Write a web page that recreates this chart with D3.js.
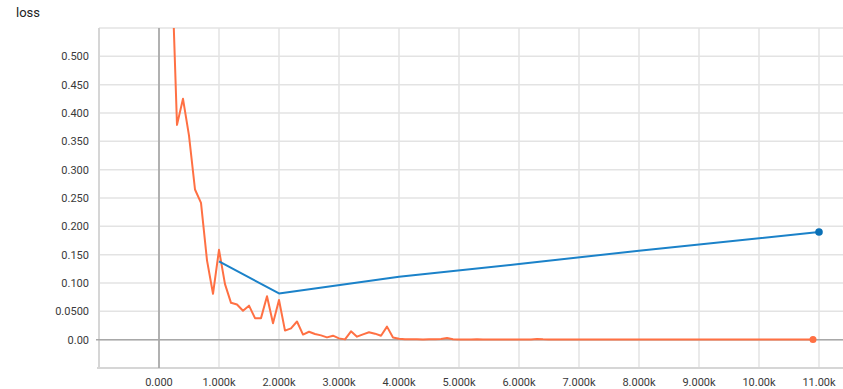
<!DOCTYPE html>
<html>
<head>
<meta charset="utf-8">
<script src="https://cdn.jsdelivr.net/npm/d3@7"></script>
<style>
  html, body { margin: 0; padding: 0; background: #fff; }
  svg { display: block; font-family: Roboto, "Noto Sans", sans-serif; }
  .grid line { stroke: #e3e3e3; stroke-width: 1.5; }
  .tick-label { font-size: 11px; fill: #3a3a3a; }
</style>
</head>
<body>
<svg id="chart" width="843" height="389"></svg>
<script>
// ── Data ──────────────────────────────────────────────────────────────────────
const chartTitle = 'loss';

// train loss, logged every 100 steps starting at step 100
const trainStepEvery = 100;
const trainLoss = [
  1.10, 0.70, 0.379, 0.425, 0.36, 0.265, 0.2415, 0.14, 0.081, 0.1585,
  0.098, 0.065, 0.062, 0.051, 0.060, 0.038, 0.038, 0.0765, 0.029, 0.070,
  0.016, 0.020, 0.032, 0.009, 0.014, 0.010, 0.0076, 0.004, 0.007, 0.0023,
  0.0005, 0.0147, 0.0053, 0.0094, 0.013, 0.0106, 0.007, 0.023, 0.004, 0.0018,
  0.0007, 0.0006, 0.0008, 0.0005, 0.0007, 0.0006, 0.0012, 0.0028, 0.0006, 0.0004,
  0.0005, 0.0004, 0.0006, 0.0005, 0.0003, 0.0004, 0.0005, 0.0004, 0.0003, 0.0004,
  0.0004, 0.0005, 0.0012, 0.0006, 0.0003, 0.0004, 0.0003, 0.0004, 0.0003, 0.0003,
  0.0004, 0.0003, 0.0003, 0.0002, 0.0003, 0.0004, 0.0003, 0.0002, 0.0003, 0.0003,
  0.0002, 0.0003, 0.0002, 0.0003, 0.0002, 0.0002, 0.0003, 0.0002, 0.0002, 0.0002,
  0.0002, 0.0002, 0.0003, 0.0002, 0.0002, 0.0002, 0.0001, 0.0002, 0.0002, 0.0002,
  0.0001, 0.0002, 0.0002, 0.0001, 0.0002, 0.0001, 0.0001, 0.0002, 0.0001
];

// eval loss
const evalSteps = [1000, 2000, 4000, 6000, 8000, 11000];
const evalLoss  = [0.138, 0.0815, 0.111, 0.1335, 0.157, 0.190];

// axis ticks
const xTickValues = [0, 1000, 2000, 3000, 4000, 5000, 6000, 7000, 8000, 9000, 10000, 11000];
const xTickLabels = ['0.000', '1.000k', '2.000k', '3.000k', '4.000k', '5.000k', '6.000k',
                     '7.000k', '8.000k', '9.000k', '10.00k', '11.00k'];
const xGridValues = [-1000, ...xTickValues];
const yTickValues = [0, 0.05, 0.1, 0.15, 0.2, 0.25, 0.3, 0.35, 0.4, 0.45, 0.5];
const yTickLabels = ['0.00', '0.0500', '0.100', '0.150', '0.200', '0.250', '0.300',
                     '0.350', '0.400', '0.450', '0.500'];
const yGridValues = [-0.05, ...yTickValues, 0.55];

const trainColor = '#ff7043';
const evalColor  = '#1b82c9';
const evalDotColor = '#0a70b6';

// ── Layout ────────────────────────────────────────────────────────────────────
const plot = { left: 99, right: 843, top: 28, bottom: 368 };

const svg = d3.select('#chart');

const x = d3.scaleLinear().domain([-1000, 11400]).range([plot.left, plot.right]);
const y = d3.scaleLinear().domain([-0.05, 0.55]).range([plot.bottom, plot.top]);

// title
svg.append('text')
  .attr('x', 16).attr('y', 16.5)
  .attr('font-size', 13).attr('fill', '#222')
  .text(chartTitle);

svg.append('clipPath').attr('id', 'plot-clip')
  .append('rect')
  .attr('x', plot.left).attr('y', plot.top)
  .attr('width', plot.right - plot.left).attr('height', plot.bottom - plot.top);

// gridlines
const grid = svg.append('g').attr('class', 'grid');
grid.selectAll('.vg').data(xGridValues).join('line')
  .attr('x1', d => x(d)).attr('x2', d => x(d))
  .attr('y1', plot.top).attr('y2', plot.bottom);
grid.selectAll('.hg').data(yGridValues).join('line')
  .attr('x1', plot.left).attr('x2', plot.right)
  .attr('y1', d => y(d)).attr('y2', d => y(d));

// frame (left + bottom)
svg.append('line')
  .attr('x1', plot.left).attr('x2', plot.left)
  .attr('y1', plot.top).attr('y2', plot.bottom + 1)
  .attr('stroke', '#d6d6d6').attr('stroke-width', 2);
svg.append('line')
  .attr('x1', plot.left - 2).attr('x2', plot.right)
  .attr('y1', plot.bottom).attr('y2', plot.bottom)
  .attr('stroke', '#d6d6d6').attr('stroke-width', 2);

// zero lines
svg.append('line')
  .attr('x1', x(0)).attr('x2', x(0))
  .attr('y1', plot.top).attr('y2', plot.bottom)
  .attr('stroke', '#9e9e9e').attr('stroke-width', 1.5);
svg.append('line')
  .attr('x1', plot.left - 3).attr('x2', plot.right)
  .attr('y1', y(0)).attr('y2', y(0))
  .attr('stroke', '#a8a8a8').attr('stroke-width', 1.5);

// tick labels
svg.append('g').selectAll('text').data(yTickValues).join('text')
  .attr('class', 'tick-label')
  .attr('x', 89).attr('y', d => y(d) + 4)
  .attr('text-anchor', 'end')
  .text((d, i) => yTickLabels[i]);

svg.append('g').selectAll('text').data(xTickValues).join('text')
  .attr('class', 'tick-label')
  .attr('x', d => x(d)).attr('y', 386)
  .attr('text-anchor', 'middle')
  .text((d, i) => xTickLabels[i]);

// series
const trainData = trainLoss.map((v, i) => ({ step: (i + 1) * trainStepEvery, value: v }));
const evalData  = evalSteps.map((s, i) => ({ step: s, value: evalLoss[i] }));

const line = d3.line().x(d => x(d.step)).y(d => y(d.value));

const lines = svg.append('g').attr('clip-path', 'url(#plot-clip)');

lines.append('path').datum(trainData)
  .attr('fill', 'none').attr('stroke', trainColor)
  .attr('stroke-width', 2).attr('stroke-linejoin', 'round')
  .attr('d', line);

lines.append('path').datum(evalData)
  .attr('fill', 'none').attr('stroke', evalColor)
  .attr('stroke-width', 2).attr('stroke-linejoin', 'round')
  .attr('d', line);

// end dots
const lastTrain = trainData[trainData.length - 1];
const lastEval  = evalData[evalData.length - 1];
svg.append('circle')
  .attr('cx', x(lastTrain.step)).attr('cy', y(lastTrain.value))
  .attr('r', 3.5).attr('fill', trainColor);
svg.append('circle')
  .attr('cx', x(lastEval.step)).attr('cy', y(lastEval.value))
  .attr('r', 3.8).attr('fill', evalDotColor);
</script>
</body>
</html>
